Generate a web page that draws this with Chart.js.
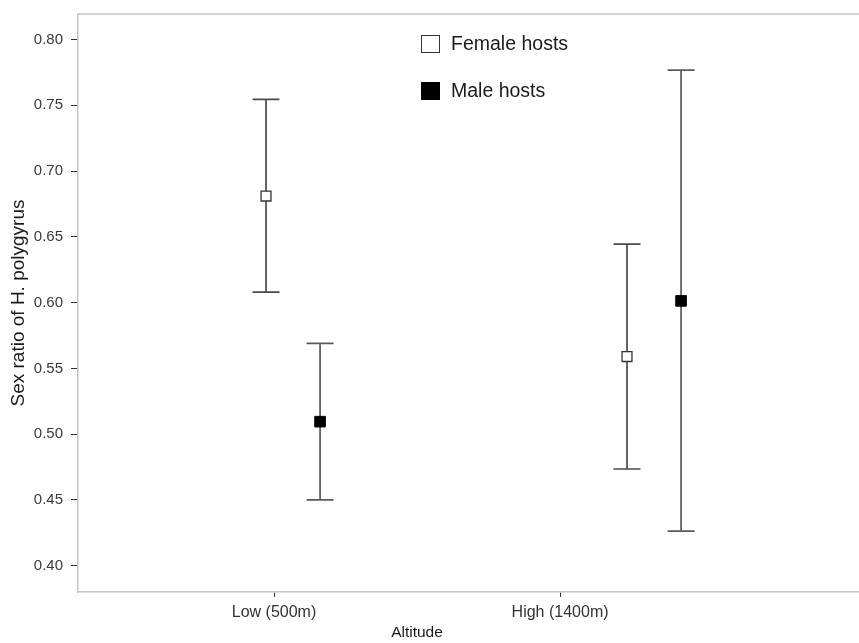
<!DOCTYPE html>
<html>
<head>
<meta charset="utf-8">
<script src="https://cdn.jsdelivr.net/npm/chart.js@4.4.1/dist/chart.umd.min.js"></script>
<style>
  html, body { margin: 0; padding: 0; background: #fff; overflow: hidden; }
  #wrap { position: relative; width: 859px; height: 643px; font-family: "Liberation Sans", Arial, sans-serif; }
  #chart { position: absolute; left: 0; top: 0; }
  .leg { position: absolute; left: 421px; display: flex; align-items: center; font-size: 19.5px; color: #1a1a1a; }
  .leg .sw { width: 19px; height: 18px; box-sizing: border-box; margin-right: 11px; }
  #legF { top: 32px; }
  #legF .sw { border: 1.5px solid #333; background: #fff; }
  #legM { top: 79px; }
  #legM .sw { background: #000; }
  #xTitle { position: absolute; top: 623px; left: 417px; transform: translateX(-50%); font-size: 15.5px; color: #1a1a1a; white-space: nowrap; }
</style>
</head>
<body>
<div id="wrap">
  <canvas id="chart" width="859" height="643"></canvas>
  <div class="leg" id="legF"><div class="sw"></div><span>Female hosts</span></div>
  <div class="leg" id="legM"><div class="sw"></div><span>Male hosts</span></div>
  <div id="xTitle">Altitude</div>
</div>
<script>
// --- data ---
const categories = ["Low (500m)", "High (1400m)"];
const categoryPos = [1, 2];

// dodged x positions (axis units) of each group's marker
const femaleX = [0.972, 2.234];
const femaleMean = [0.681, 0.559];
const femaleLower = [0.608, 0.4735];
const femaleUpper = [0.7545, 0.6445];

const maleX = [1.161, 2.423];
const maleMean = [0.5095, 0.6013];
const maleLower = [0.450, 0.4263];
const maleUpper = [0.569, 0.7768];

const yTicks = [0.40, 0.45, 0.50, 0.55, 0.60, 0.65, 0.70, 0.75, 0.80];

function points(xs, mean, lo, hi) {
  return xs.map((x, i) => ({ x, y: mean[i], lo: lo[i], hi: hi[i] }));
}

// --- error bars drawn behind the markers ---
const errorBars = {
  id: "errorBars",
  beforeDatasetsDraw(chart) {
    const { ctx, scales: { x, y } } = chart;
    const cap = 13.5;
    ctx.save();
    chart.data.datasets.forEach((ds) => {
      ctx.strokeStyle = ds.errColor;
      ctx.lineWidth = 1.7;
      ds.data.forEach((p) => {
        const px = x.getPixelForValue(p.x);
        const top = y.getPixelForValue(p.hi);
        const bot = y.getPixelForValue(p.lo);
        ctx.beginPath();
        ctx.moveTo(px, top);
        ctx.lineTo(px, bot);
        ctx.moveTo(px - cap, top);
        ctx.lineTo(px + cap, top);
        ctx.moveTo(px - cap, bot);
        ctx.lineTo(px + cap, bot);
        ctx.stroke();
      });
    });
    ctx.restore();
  },
};

// top edge of the panel (left/bottom come from the axis borders)
const panelTop = {
  id: "panelTop",
  beforeDraw(chart) {
    const { ctx, chartArea: a } = chart;
    ctx.save();
    ctx.strokeStyle = "#c6c6c6";
    ctx.lineWidth = 1.5;
    ctx.beginPath();
    ctx.moveTo(a.left, a.top);
    ctx.lineTo(a.right, a.top);
    ctx.stroke();
    ctx.restore();
  },
};

Chart.defaults.font.family = '"Liberation Sans", Arial, sans-serif';

new Chart(document.getElementById("chart"), {
  type: "scatter",
  data: {
    datasets: [
      {
        label: "Female hosts",
        data: points(femaleX, femaleMean, femaleLower, femaleUpper),
        pointStyle: "rect",
        pointRadius: 7,
        backgroundColor: "#ffffff",
        borderColor: "#333333",
        borderWidth: 1.3,
        errColor: "#4a4a4a",
      },
      {
        label: "Male hosts",
        data: points(maleX, maleMean, maleLower, maleUpper),
        pointStyle: "rect",
        pointRadius: 7.5,
        backgroundColor: "#000000",
        borderColor: "#000000",
        borderWidth: 1,
        errColor: "#5a5a5a",
      },
    ],
  },
  options: {
    responsive: false,
    animation: false,
    devicePixelRatio: 1,
    layout: { autoPadding: false, padding: { left: 0, top: 14, right: 0, bottom: 0 } },
    plugins: { legend: { display: false }, tooltip: { enabled: false } },
    scales: {
      x: {
        type: "linear",
        min: 0.3147,
        max: 3.045,
        afterBuildTicks: (s) => { s.ticks = categoryPos.map((v) => ({ value: v })); },
        afterFit: (s) => { s.height = 51; s.paddingLeft = 0; s.paddingRight = 0; },
        ticks: {
          callback: (v) => categories[categoryPos.indexOf(v)],
          font: { size: 16 },
          color: "#333333",
          padding: 6,
          maxRotation: 0,
        },
        grid: { drawOnChartArea: false, tickLength: 5, color: "#333333" },
        border: { display: true, color: "#c6c6c6", width: 1.5 },
      },
      y: {
        min: 0.380,
        max: 0.8194,
        afterBuildTicks: (s) => { s.ticks = yTicks.map((v) => ({ value: v })); },
        afterFit: (s) => { s.width = 78; s.paddingTop = 0; s.paddingBottom = 0; },
        ticks: {
          callback: (v) => v.toFixed(2),
          font: { size: 15 },
          color: "#3a3a3a",
          padding: 8,
        },
        grid: { drawOnChartArea: false, tickLength: 7, color: "#333333" },
        border: { display: true, color: "#c6c6c6", width: 1.5 },
        title: {
          display: true,
          text: "Sex ratio of H. polygyrus",
          font: { size: 19 },
          color: "#1a1a1a",
          padding: { top: 7, bottom: 0 },
        },
      },
    },
  },
  plugins: [errorBars, panelTop],
});
</script>
</body>
</html>
